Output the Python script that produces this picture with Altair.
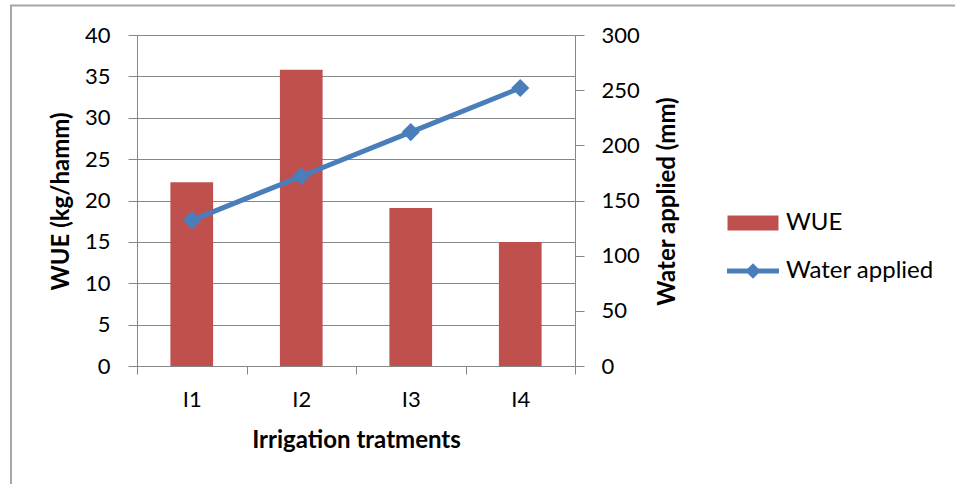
import altair as alt
import pandas as pd

# Irrigation treatments, water use efficiency and water applied
treatments = ["I1", "I2", "I3", "I4"]
wue = [22.2, 35.8, 19.1, 15.0]
water_applied = [132, 172, 212, 252]

BAR_RED = "#C0504D"
LINE_BLUE = "#4A7EBB"
GRID = "#868686"
FONT = "Lato"

df = pd.DataFrame({
    "treatment": treatments,
    "wue": wue,
    "water": water_applied,
    "s_wue": ["WUE"] * len(treatments),
    "s_water": ["Water applied"] * len(treatments),
})

x_enc = alt.X(
    "treatment:N",
    sort=treatments,
    scale=alt.Scale(paddingInner=0, paddingOuter=0),
    axis=alt.Axis(
        title="Irrigation tratments",
        labelAngle=0,
        tickBand="extent",
        tickSize=8,
        labelPadding=15,
        titlePadding=18,
        grid=False,
    ),
)

bars = alt.Chart(df).mark_bar(width=alt.RelativeBandSize(0.39)).encode(
    x=x_enc,
    y=alt.Y(
        "wue:Q",
        scale=alt.Scale(domain=[0, 40]),
        axis=alt.Axis(
            title="WUE (kg/hamm)",
            values=list(range(0, 41, 5)),
            tickSize=9,
            labelPadding=18,
            grid=True,
            titleX=-76,
            titleY=166,
            titleBaseline="middle",
        ),
    ),
    color=alt.Color(
        "s_wue:N",
        scale=alt.Scale(domain=["WUE"], range=[BAR_RED]),
        legend=alt.Legend(
            title=None,
            orient="none",
            legendX=590,
            legendY=162,
            symbolType="M-0.98,-0.29H0.98V0.29H-0.98Z",
            symbolSize=2704,
            symbolStrokeWidth=0,
            labelOffset=7,
        ),
    ),
)

water_y = alt.Y(
    "water:Q",
    scale=alt.Scale(domain=[0, 300]),
    axis=alt.Axis(
        title="Water applied (mm)",
        orient="right",
        values=list(range(0, 301, 50)),
        tickSize=9,
        labelPadding=17,
        grid=False,
        titleAngle=270,
        titleX=92,
        titleY=166,
        titleBaseline="middle",
    ),
)

line = alt.Chart(df).mark_line(strokeWidth=5, color=LINE_BLUE).encode(
    x=alt.X("treatment:N", sort=treatments),
    y=water_y,
)

points = alt.Chart(df).mark_point(shape="diamond", size=330, filled=True, opacity=1).encode(
    x=alt.X("treatment:N", sort=treatments),
    y=alt.Y("water:Q"),
    color=alt.Color(
        "s_water:N",
        scale=alt.Scale(domain=["Water applied"], range=[LINE_BLUE]),
        legend=alt.Legend(
            title=None,
            orient="none",
            legendX=590,
            legendY=210,
            symbolType="M-1,-0.1H1V0.1H-1Z M0,-0.3L0.3,0L0,0.3L-0.3,0Z",
            symbolSize=2704,
            symbolStrokeWidth=0,
            symbolOpacity=1,
            labelOffset=7,
        ),
    ),
)

# Outer frame around the whole figure
frame = alt.Chart(pd.DataFrame({"f": [0]})).mark_rect(
    filled=False, stroke="#A6A6A6", strokeWidth=2
).encode(
    x=alt.value(-126),
    x2=alt.value(900),
    y=alt.value(-29.5),
    y2=alt.value(600),
)

water_layer = alt.layer(line, points)

chart = (
    alt.layer(frame, bars, water_layer)
    .resolve_scale(y="independent", color="independent")
    .properties(
        width=438,
        height=331,
        padding={"left": 137, "top": 35, "right": 380, "bottom": 118},
        autosize=alt.AutoSizeParams(type="none"),
    )
    .configure_view(stroke=None)
    .configure_axis(
        labelFont=FONT,
        labelFontSize=22,
        labelColor="#000000",
        titleFont=FONT,
        titleFontSize=24,
        titleFontWeight="bold",
        titleColor="#000000",
        domainColor=GRID,
        tickColor=GRID,
        gridColor=GRID,
        domainWidth=1,
        tickWidth=1,
        gridWidth=1,
    )
    .configure_legend(
        labelFont=FONT,
        labelFontSize=24,
        labelColor="#000000",
    )
)

chart.save("out.html", embed_options={"renderer": "svg", "actions": False})
